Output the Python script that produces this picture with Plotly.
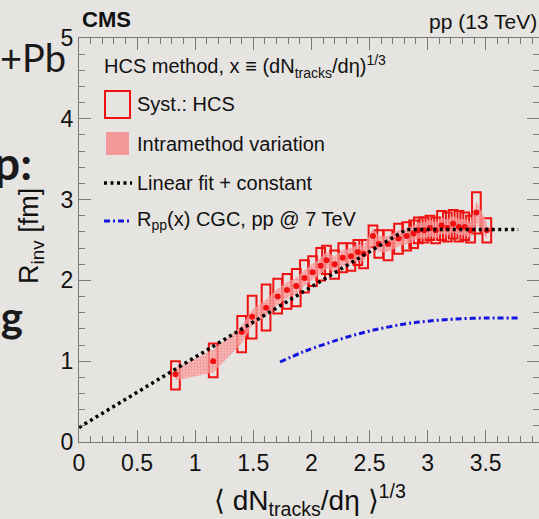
import plotly.graph_objects as go

# ---------------- data ----------------
mult_x = [0.83, 1.155, 1.40, 1.49, 1.61, 1.71, 1.79, 1.87, 1.94, 2.01, 2.08, 2.13, 2.20, 2.27, 2.34,
          2.40, 2.45, 2.53, 2.58, 2.66, 2.75, 2.82, 2.88, 2.92, 2.97, 3.02, 3.07, 3.12, 3.17, 3.22,
          3.27, 3.32, 3.37, 3.42, 3.51]
r_inv = [0.84, 1.00, 1.36, 1.55, 1.66, 1.80, 1.88, 1.93, 2.03, 2.10, 2.18, 2.25, 2.20, 2.28, 2.30,
         2.35, 2.33, 2.55, 2.45, 2.45, 2.52, 2.55, 2.58, 2.62, 2.62, 2.65, 2.62, 2.68, 2.65, 2.70,
         2.66, 2.66, 2.62, 2.84, 2.62]
syst_lo = [0.65, 0.80, 1.11, 1.28, 1.38, 1.59, 1.65, 1.68, 1.85, 1.93, 2.00, 2.08, 2.02, 2.10, 2.12,
           2.19, 2.15, 2.41, 2.28, 2.25, 2.33, 2.37, 2.40, 2.46, 2.47, 2.50, 2.46, 2.50, 2.48, 2.52,
           2.48, 2.50, 2.47, 2.58, 2.47]
syst_hi = [1.00, 1.22, 1.56, 1.81, 1.95, 2.02, 2.08, 2.14, 2.25, 2.30, 2.40, 2.43, 2.37, 2.46, 2.46,
           2.50, 2.50, 2.68, 2.62, 2.62, 2.70, 2.72, 2.74, 2.78, 2.78, 2.80, 2.78, 2.86, 2.84, 2.87,
           2.86, 2.84, 2.80, 3.09, 2.77]
band_lo = [0.76, 0.86, 1.22, 1.44, 1.56, 1.70, 1.78, 1.83, 1.93, 2.00, 2.08, 2.15, 2.10, 2.18, 2.20,
           2.25, 2.23, 2.44, 2.35, 2.35, 2.42, 2.45, 2.48, 2.52, 2.52, 2.55, 2.52, 2.58, 2.55, 2.60,
           2.56, 2.56, 2.52, 2.70, 2.52]
band_hi = [0.92, 1.14, 1.44, 1.64, 1.76, 1.90, 1.98, 2.03, 2.13, 2.20, 2.28, 2.35, 2.30, 2.38, 2.40,
           2.45, 2.43, 2.65, 2.55, 2.55, 2.62, 2.65, 2.68, 2.72, 2.72, 2.75, 2.72, 2.78, 2.75, 2.80,
           2.76, 2.76, 2.72, 2.98, 2.72]

fit_intercept = 0.18
fit_slope = 0.87
fit_plateau = 2.63
fit_xmax = 3.78

cgc_x = [1.73, 1.93, 2.22, 2.505, 2.79, 2.99, 3.22, 3.51, 3.78]
cgc_y = [0.99, 1.115, 1.26, 1.375, 1.457, 1.494, 1.52, 1.535, 1.535]

x_ticks = [0, 0.5, 1, 1.5, 2, 2.5, 3, 3.5]
y_ticks = [0, 1, 2, 3, 4, 5]

# ---------------- figure ----------------
BG = "#e6e4e0"
RED = "#f01010"
FONT = "Liberation Sans, Arial, sans-serif"

fig = go.Figure()

# intramethod band
fig.add_trace(go.Scatter(x=mult_x, y=band_lo, mode="lines", line=dict(width=0, color="rgba(0,0,0,0)"),
                         hoverinfo="skip", showlegend=False))
fig.add_trace(go.Scatter(x=mult_x, y=band_hi, mode="lines", line=dict(width=0, color="rgba(0,0,0,0)"),
                         fill="tonexty", fillcolor="rgba(245,140,140,0.75)",
                         fillpattern=dict(shape="+", fgcolor="rgba(240,70,70,0.55)",
                                          bgcolor="rgba(248,165,165,0.75)", size=3, solidity=0.35),
                         hoverinfo="skip", showlegend=False))

# systematic boxes
fig.add_trace(go.Bar(x=mult_x, base=syst_lo, y=[h - l for h, l in zip(syst_hi, syst_lo)],
                     width=0.075, marker=dict(color="rgba(0,0,0,0)", line=dict(color=RED, width=2)),
                     showlegend=False))

# data points
fig.add_trace(go.Scatter(x=mult_x, y=r_inv, mode="markers",
                         marker=dict(color=RED, size=6, symbol="circle"), showlegend=False))

# linear fit + constant
knee = (fit_plateau - fit_intercept) / fit_slope
fig.add_trace(go.Scatter(x=[0, knee, fit_xmax], y=[fit_intercept, fit_plateau, fit_plateau],
                         mode="lines", line=dict(color="black", width=3.5, dash="3px,3.5px"),
                         showlegend=False))

# CGC curve
fig.add_trace(go.Scatter(x=cgc_x, y=cgc_y, mode="lines", line_shape="spline",
                         line=dict(color="#1515e0", width=3, dash="6px,3px,2px,3px"),
                         showlegend=False))

axis_common = dict(showgrid=False, zeroline=False, showline=True, linecolor="#7a7a7a", linewidth=1,
                   mirror="ticks", ticks="inside", ticklen=12, tickcolor="#7a7a7a", tickwidth=1,
                   tickfont=dict(family=FONT, size=23, color="#111111"))

fig.update_layout(
    width=539, height=519,
    margin=dict(l=79, r=0, t=38, b=77),
    paper_bgcolor=BG, plot_bgcolor=BG,
    barmode="overlay",
    xaxis=dict(range=[0, 3.959], tickvals=x_ticks, ticktext=[str(v) if v % 1 else str(int(v)) for v in x_ticks],
               minor=dict(dtick=0.1, ticks="inside", ticklen=6, tickcolor="#7a7a7a"),
               **axis_common),
    yaxis=dict(range=[0, 5], tickvals=y_ticks,
               minor=dict(dtick=0.2, ticks="inside", ticklen=6, tickcolor="#7a7a7a"),
               **axis_common),
)

def px2paper(px, py):
    return (px - 79) / 460.0, (442 - py) / 404.0

ann = []
def text(px, py, s, size, xanchor="left", bold=False, family=FONT, color="#111111", angle=0):
    xp, yp = px2paper(px, py)
    ann.append(dict(x=xp, y=yp, xref="paper", yref="paper", text=s, showarrow=False,
                    xanchor=xanchor, yanchor="middle", textangle=angle,
                    font=dict(family=family, size=size, color=color,
                              weight="bold" if bold else "normal")))

# header labels
text(80, 20, "CMS", 22, bold=True)
text(427, 22, "pp (13 TeV)", 21)

# legend
text(102, 67, "HCS method, x ≡ (dN<sub>tracks</sub>/dη)<sup>1/3</sup>", 20)
text(135, 104, "Syst.: HCS", 20)
text(135, 144, "Intramethod variation", 20)
text(135, 183, "Linear fit + constant", 20)
text(135, 221, "R<sub>pp</sub>(x) CGC, pp @ 7 TeV", 20)

# axis titles
text(31, 236, "R<sub>inv</sub> [fm]", 27, xanchor="center", angle=-90)
text(310, 500, "⟨ dN<sub>tracks</sub>/dη ⟩<sup>1/3</sup>", 28, xanchor="center")

# slide text fragments at left edge
SLIDE = "Lato, Open Sans, sans-serif"
text(68, 57, "+Pb", 38, xanchor="right", family=SLIDE, color="#1a1a1a")
text(34, 162, "p:", 46, xanchor="right", bold=True, family=SLIDE, color="#1a1a1a")
text(25, 316, "ng", 42, xanchor="right", bold=True, family=SLIDE, color="#1a1a1a")

fig.update_layout(annotations=ann)

shapes = []
def rect(x0, y0, x1, y1, **kw):
    a, b = px2paper(x0, y0)
    c, d = px2paper(x1, y1)
    shapes.append(dict(type="rect", xref="paper", yref="paper", x0=a, y0=b, x1=c, y1=d, **kw))
def hline(x0, x1, y, **kw):
    a, b = px2paper(x0, y)
    c, _ = px2paper(x1, y)
    shapes.append(dict(type="line", xref="paper", yref="paper", x0=a, y0=b, x1=c, y1=b, **kw))

rect(105, 91, 130, 118, line=dict(color=RED, width=2), fillcolor="rgba(0,0,0,0)")
rect(106, 132, 129, 155, line=dict(width=0), fillcolor="rgba(245,140,140,0.85)")
hline(104, 132, 183, line=dict(color="black", width=3.5, dash="3px,3.5px"))
hline(104, 132, 221, line=dict(color="#1515e0", width=3, dash="6px,3px,2px,3px"))
fig.update_layout(shapes=shapes)

fig.write_html("out.html")
